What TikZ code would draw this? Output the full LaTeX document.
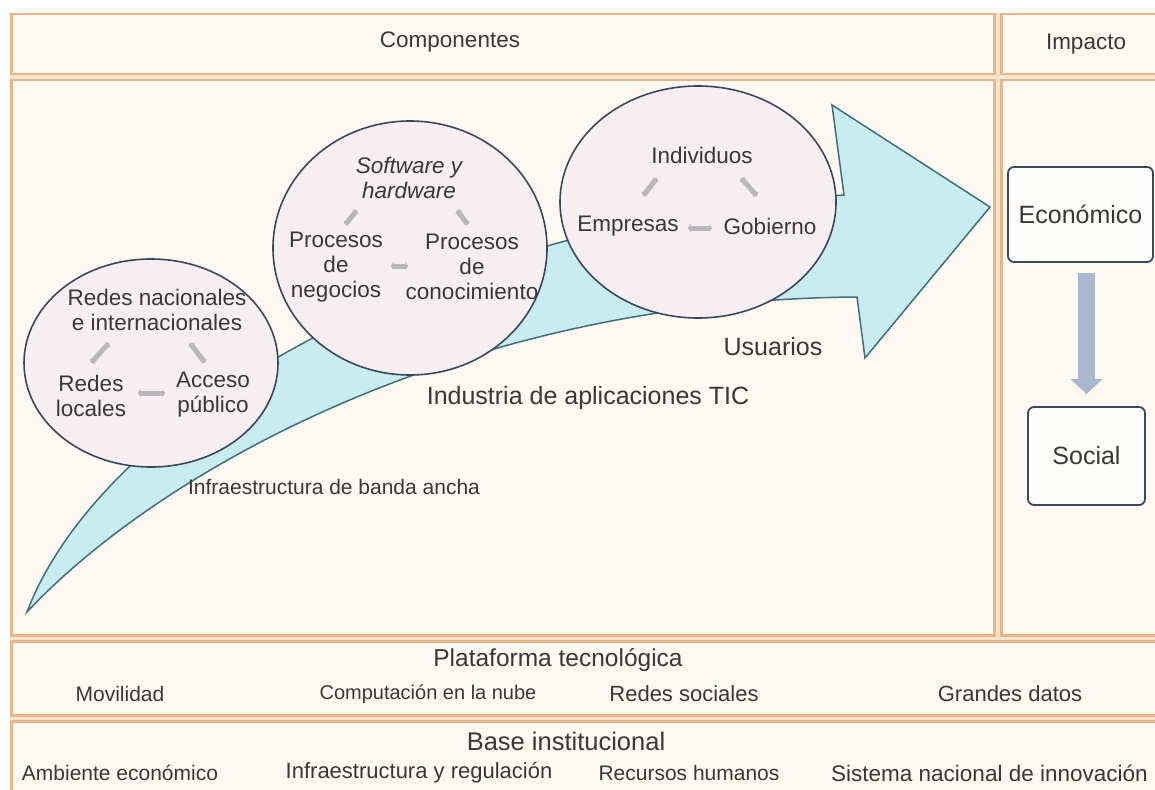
\documentclass[tikz,border=0pt]{standalone}
\usepackage{fontspec}
\setmainfont{Liberation Sans}
\usetikzlibrary{arrows.meta,shapes.geometric}
\definecolor{ob}{HTML}{E6B68A}
\definecolor{peach}{HTML}{F7E4D0}
\definecolor{cream}{HTML}{FDF8F2}
\definecolor{arrowfill}{HTML}{C9ECF0}
\definecolor{arrowline}{HTML}{3F6F79}
\definecolor{circfill}{HTML}{F6EEF1}
\definecolor{circline}{HTML}{3A4858}
\definecolor{txtc}{HTML}{383838}
\definecolor{garr}{HTML}{B8B8BC}
\definecolor{boxline}{HTML}{3C4A58}
\definecolor{downarr}{HTML}{A9B7CF}
\tikzset{
  obox/.style={draw=ob, fill=cream, line width=2.5pt, anchor=north west, inner sep=0pt},
  circ/.style={ellipse, draw=circline, fill=circfill, line width=1.6pt, inner sep=0pt},
  lbl/.style={text=txtc, inner sep=0pt, align=center, font=\fontsize{22.5}{26}\selectfont},
  albl/.style={text=txtc, inner sep=0pt, align=center, font=\fontsize{25}{28}\selectfont},
  clbl/.style={text=txtc, inner sep=0pt, align=center, font=\fontsize{22.5}{25}\selectfont},
  tlbl/.style={text=txtc, inner sep=0pt, align=center, font=\fontsize{24.5}{28}\selectfont},
  blbl/.style={text=txtc, inner sep=0pt, align=center, font=\fontsize{22}{24}\selectfont},
  garrow/.style={draw=garr, line width=5pt, {Triangle[length=2.5pt,width=8pt]}-{Triangle[length=2.5pt,width=8pt]}},
  impbox/.style={draw=boxline, fill=white!70!cream, rounded corners=6pt, line width=1.8pt, text=txtc, font=\fontsize{25}{28}\selectfont, inner sep=0pt}
}
\begin{document}
\begin{tikzpicture}[x=1pt,y=-1pt]
\useasboundingbox (0,0) rectangle (1155,789);
% background and boxes
\fill[peach] (10,13) rectangle (1175,810);
\node[obox, minimum width=983pt, minimum height=60pt] (hc) at (10,13) {};
\node[obox, minimum width=175pt, minimum height=60pt] (hi) at (1000,13) {};
\node[obox, minimum width=983pt, minimum height=555pt] (mc) at (10,79) {};
\node[obox, minimum width=175pt, minimum height=555pt] (mi) at (1000,79) {};
\node[obox, minimum width=1165pt, minimum height=74pt] (pl) at (10,640) {};
\node[obox, minimum width=1165pt, minimum height=90pt] (bs) at (10,720) {};
% header texts
\node[lbl] (tcomp) at (450,42) {Componentes};
\node[lbl] (timp) at (1086,44) {Impacto};
% big arrow
\draw[fill=arrowfill, draw=arrowline, line width=1.5pt, line join=miter]
  (27,612) .. controls (150,480) and (450,300) .. (857,297) -- (865,358) -- (990,207)
  -- (832,105) -- (844,195) .. controls (420,225) and (100,420) .. (27,612) -- cycle;
% circles
\node[circ, minimum width=254pt, minimum height=208pt] (c1) at (151,363) {};
\node[circ, minimum width=274pt, minimum height=254pt] (c2) at (410,248) {};
\node[circ, minimum width=276pt, minimum height=232pt] (c3) at (698,202) {};
% circle 1 texts
\node[clbl] (rn) at (157,310) {Redes nacionales\\e internacionales};
\node[clbl] (rl) at (91,396) {Redes\\locales};
\node[clbl] (ap) at (213,395) {Acceso\\público};
\coordinate (a1s) at (91,363); \coordinate (a1e) at (109,343);
\coordinate (a2s) at (190,343); \coordinate (a2e) at (205,363);
\coordinate (a3s) at (138,393); \coordinate (a3e) at (165,393);
\draw[garrow] (a1s) -- (a1e);
\draw[garrow] (a2s) -- (a2e);
\draw[garrow] (a3s) -- (a3e);
% circle 2 texts
\node[clbl, font=\fontsize{22.5}{25}\selectfont\itshape] (sh) at (409,178) {Software y\\hardware};
\node[clbl] (pn) at (336,267) {Procesos\\de\\negocios};
\node[clbl] (pc) at (472,267) {Procesos\\de\\conocimiento};
\coordinate (b1s) at (345,225); \coordinate (b1e) at (357,210);
\coordinate (b2s) at (457,210); \coordinate (b2e) at (468,225);
\coordinate (b3s) at (391,266); \coordinate (b3e) at (408,266);
\draw[garrow] (b1s) -- (b1e);
\draw[garrow] (b2s) -- (b2e);
\draw[garrow] (b3s) -- (b3e);
% circle 3 texts
\node[clbl] (ind) at (702,155) {Individuos};
\node[clbl] (emp) at (628,226) {Empresas};
\node[clbl] (gob) at (770,226) {Gobierno};
\coordinate (d1s) at (643,196); \coordinate (d1e) at (657,178);
\coordinate (d2s) at (741,178); \coordinate (d2e) at (757,196);
\coordinate (d3s) at (688,228); \coordinate (d3e) at (712,228);
\draw[garrow] (d1s) -- (d1e);
\draw[garrow] (d2s) -- (d2e);
\draw[garrow] (d3s) -- (d3e);
% arrow labels
\node[albl] (usu) at (773,347) {Usuarios};
\node[albl] (ind2) at (588,398) {Industria de aplicaciones TIC};
\node[lbl, font=\fontsize{21}{24}\selectfont] (inf) at (334,487) {Infraestructura de banda ancha};
% impact
\node[impbox, minimum width=145pt, minimum height=95pt] (eco) at (1080.5,214.5) {Económico};
\node[impbox, minimum width=117pt, minimum height=98pt] (soc) at (1086.5,456) {Social};
\draw[downarr, line width=17pt, -{Triangle[length=15pt,width=31pt]}, shorten <=10pt, shorten >=12pt] (eco.south -| soc.north) -- (soc.north);
% plataforma
\node[tlbl] (pt) at (558,660) {Plataforma tecnológica};
\node[blbl, font=\fontsize{21}{24}\selectfont] (mov) at (120,694) {Movilidad};
\node[blbl, font=\fontsize{20}{24}\selectfont] (cn) at (428,694) {Computación en la nube};
\node[blbl] (rs) at (684,694) {Redes sociales};
\node[blbl] (gd) at (1010,694) {Grandes datos};
% base
\node[tlbl, font=\fontsize{25.5}{28}\selectfont] (bi) at (566,741) {Base institucional};
\node[blbl, font=\fontsize{21}{24}\selectfont] (ae) at (120,773) {Ambiente económico};
\node[blbl] (ir) at (419,773) {Infraestructura y regulación};
\node[blbl, font=\fontsize{21}{24}\selectfont] (rh) at (689,773) {Recursos humanos};
\node[blbl, anchor=west, font=\fontsize{22.5}{24}\selectfont] (sn) at (831,773) {Sistema nacional de innovación};
\end{tikzpicture}
\end{document}
